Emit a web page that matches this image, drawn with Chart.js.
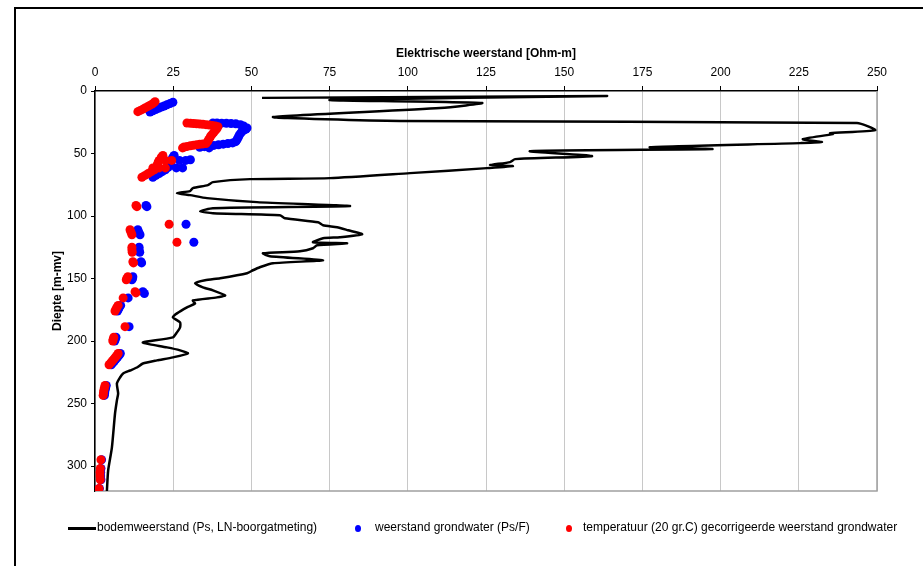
<!DOCTYPE html>
<html>
<head>
<meta charset="utf-8">
<script src="https://cdn.jsdelivr.net/npm/chart.js@4.4.1/dist/chart.umd.min.js"></script>
<style>
  body { margin: 0; background: #fff; font-family: "Liberation Sans", Arial, sans-serif; }
  #wrap { position: relative; width: 923px; height: 566px; }
  #legend { position: absolute; left: 0; top: 520px; width: 923px; height: 16px; font-size: 12px; color: #000; }
  #legend .item { position: absolute; top: 0; white-space: nowrap; line-height: 15px; }
  #legend .line { position: absolute; top: 7px; width: 28px; height: 3px; background: #000; }
  #legend .dot { position: absolute; top: 5px; width: 6px; height: 7px; border-radius: 50%; }
</style>
</head>
<body>
<div id="wrap">
  <canvas id="diepteChart" width="923" height="566"></canvas>
  <div id="legend"></div>
</div>
<script>
// Axis ranges
const xMax = 250;
const yMax = 320;

// Legend labels
const seriesLabels = [
    'bodemweerstand (Ps, LN-boorgatmeting)',
    'weerstand grondwater (Ps/F)',
    'temperatuur (20 gr.C) gecorrigeerde weerstand grondwater'
];

// Bodemweerstand (line): value [Ohm-m] and depth [m-mv]
const bodemWaarde = [53.4, 163.7, 75.1, 123.7, 110.3, 56.9, 97.5, 243.6, 249.4, 235.0,
    235.9, 226.3, 232.4, 225.4, 177.4, 197.3, 139.1, 158.9, 134.3, 132.7,
    126.3, 133.6, 125.3, 100.7, 75.1, 49.6, 37.7, 36.1, 31.3, 30.4,
    26.2, 30.4, 35.8, 51.8, 81.5, 37.7, 33.6, 37.7, 59.1, 60.7,
    71.3, 72.9, 77.4, 80.9, 85.4, 78.3, 72.9, 69.7, 80.6, 71.0,
    69.7, 65.5, 53.7, 55.9, 72.9, 56.9, 52.7, 50.5, 48.6, 40.0,
    35.2, 32.0, 34.5, 37.7, 41.6, 39.0, 31.3, 32.0, 29.4, 26.2,
    24.9, 27.2, 27.2, 26.2, 24.9, 15.3, 17.6, 23.0, 27.2, 29.7,
    24.9, 19.8, 15.3, 13.4, 11.2, 9.0, 8.0, 7.0, 7.4, 7.0,
    6.4, 5.4, 4.2, 3.8];
const bodemDiepte = [5.5, 4.0, 7.2, 9.6, 13.6, 20.8, 24.0, 25.6, 31.3, 33.7,
    34.5, 38.5, 40.9, 41.7, 44.9, 46.5, 48.1, 52.1, 54.5, 56.9,
    59.3, 60.1, 61.7, 65.7, 69.7, 70.5, 72.9, 75.3, 77.7, 80.1,
    81.7, 83.3, 85.7, 88.9, 92.1, 93.8, 96.2, 97.8, 99.4, 101.8,
    105.0, 107.4, 109.0, 111.4, 114.6, 117.0, 117.8, 121.0, 121.8, 123.4,
    125.8, 128.2, 129.8, 132.2, 135.4, 137.8, 141.0, 143.4, 145.8, 149.8,
    151.4, 153.8, 157.1, 159.5, 163.5, 165.1, 167.5, 169.9, 173.1, 177.9,
    181.1, 185.1, 189.1, 193.1, 197.1, 201.1, 202.7, 205.1, 207.5, 209.9,
    213.1, 215.5, 218.0, 221.2, 223.6, 226.0, 229.2, 234.0, 242.0, 247.6,
    258.0, 285.3, 303.7, 320];

// Weerstand grondwater (blue points)
const blauwWaarde = [17.6, 18.5, 19.4, 20.3, 21.2, 22.1, 23, 24, 24.9,
    37.7, 39, 40.5, 42, 43.5, 45, 46.5, 47.5, 48.6, 48.3, 47.5, 46.8, 46.3, 46, 45.7, 45.4, 45,
    44, 42.5, 41, 39.5, 38, 36.5, 35, 33.5, 36.5,
    25.3, 24.9, 24.6, 27, 29, 30.5, 24.3, 24, 23.7, 23.4, 26, 28, 22.5, 21.5, 20.5, 19.5, 18.5,
    16.3, 16.6, 29.1, 13.7, 14, 14.4, 31.6, 14.1, 14.1, 14.3, 14.7, 14.9, 12.1, 12, 11.8,
    15.3, 15.8, 10.6, 8.2, 7.8, 7.5, 7.2, 10.9, 6.7, 6.5, 6.3,
    8.1, 7.7, 7.2, 6.7, 6.2, 5.7, 5.2, 3.6, 3.4, 3.2, 3.1, 3,
    2.1, 1.9, 1.8, 1.8, 1.9, 1.4];
const blauwDiepte = [16.8, 15.8, 14.8, 13.8, 12.8, 12, 11, 10, 9,
    25.6, 25.6, 25.7, 25.8, 26, 26.2, 27, 28, 29.5, 30.5, 31.5, 33, 34.5, 36, 37.5, 39, 40.5,
    41.5, 42, 42.5, 43, 43.5, 44, 44.5, 45, 45.5,
    51.5, 53, 54.5, 55.5, 55.5, 55, 56.5, 58, 59.5, 61, 61.5, 61.5, 63, 64.5, 66, 67.5, 69,
    91.5, 92.5, 106.6, 111, 113, 115, 121, 125, 127, 129, 136.5, 137.5, 148.5, 150, 151,
    160.5, 162, 165.5, 171.5, 173, 174.5, 176, 188.5, 197, 198.5, 200,
    210, 211.5, 213, 214.5, 216, 217.5, 219, 235.5, 237.5, 239.5, 241.5, 243.5,
    295, 302, 305, 308, 311, 318];

// Temperatuur gecorrigeerde weerstand (red points)
const roodWaarde = [13.7, 14.5, 15.3, 16.0, 16.8, 17.5, 18.2, 18.8, 19.2,
    29.4, 30.5, 31.5, 32.5, 33.5, 34.5, 35.5, 36.5, 37.5, 38.5, 39.3,
    39, 38.5, 38, 37.5, 37, 36.7, 36.3, 36,
    35.5, 34.5, 33.5, 32.5, 31.5, 30.5, 29.5, 28.5, 28,
    21.7, 21.2, 21, 20.5, 22.5, 24.5, 20.2, 20, 19.8, 18.5, 20.5, 22.5, 19, 18, 17, 16, 15,
    13.1, 13.4, 23.7, 11.2, 11.5, 11.8, 26.2, 11.8, 11.8, 11.9, 12.1, 12.3, 10.5, 10.2, 10,
    12.8, 13.1, 9.0, 7.4, 7, 6.7, 6.4, 9.6, 6, 5.8, 5.7,
    7.4, 7, 6.5, 6, 5.5, 5, 4.5, 3.2, 3, 2.8, 2.7, 2.6,
    1.9, 1.7, 1.6, 1.6, 1.7, 1.3];
const roodDiepte = [16.5, 15.5, 14.5, 13.5, 12.5, 11.5, 10.5, 9.5, 8.5,
    25.6, 25.8, 26, 26.2, 26.4, 26.6, 26.9, 27.2, 27.5, 28, 28.5,
    30, 31.5, 33, 34.5, 36, 37.5, 39, 40.5,
    42, 42.3, 42.6, 43, 43.4, 43.8, 44.3, 44.8, 45.5,
    51.5, 53, 54.5, 55.5, 55.5, 55.5, 57, 58.5, 60, 61.5, 61.5, 61.5, 63, 64.5, 66, 67.5, 69,
    91.5, 92.5, 106.6, 111, 113, 115, 121, 125, 127, 129, 136.5, 137.5, 148.5, 150, 151,
    160.5, 161.5, 165.5, 171.5, 173, 174.5, 176, 188.5, 197, 198.5, 200,
    210, 211.5, 213, 214.5, 216, 217.5, 219, 235.5, 237.5, 239.5, 241.5, 243.5,
    295, 302, 305, 308, 311, 318];

function toPoints(waarde, diepte) {
    return waarde.map((v, i) => ({ x: v, y: diepte[i] }));
}

const fontFamily = '"Liberation Sans", Arial, sans-serif';
Chart.defaults.font.family = fontFamily;
Chart.defaults.font.size = 12;
Chart.defaults.color = '#000';

// Frame around the whole figure and the grey right/bottom edge of the plot
const framePlugin = {
    id: 'frame',
    beforeDraw(chart) {
        const c = chart.ctx;
        c.save();
        c.fillStyle = '#fff';
        c.fillRect(0, 0, chart.width, chart.height);
        c.strokeStyle = '#000';
        c.lineWidth = 2;
        c.beginPath();
        c.moveTo(15, chart.height);
        c.lineTo(15, 8);
        c.lineTo(chart.width, 8);
        c.stroke();
        c.restore();
    },
    beforeDatasetsDraw(chart) {
        const a = chart.chartArea;
        const c = chart.ctx;
        c.save();
        c.strokeStyle = '#a0a0a0';
        c.lineWidth = 1.5;
        c.beginPath();
        c.moveTo(a.left, a.bottom);
        c.lineTo(a.right, a.bottom);
        c.lineTo(a.right, a.top);
        c.stroke();
        c.restore();
    }
};

const ctx = document.getElementById('diepteChart').getContext('2d');
const diepteChart = new Chart(ctx, {
    type: 'scatter',
    data: {
        datasets: [{
            label: seriesLabels[0],
            data: toPoints(bodemWaarde, bodemDiepte),
            showLine: true,
            borderColor: '#000',
            borderWidth: 2.5,
            tension: 0.2,
            pointRadius: 0,
            order: 0
        }, {
            label: seriesLabels[1],
            data: toPoints(blauwWaarde, blauwDiepte),
            backgroundColor: '#0000ff',
            borderWidth: 0,
            pointRadius: 4.5,
            order: 2
        }, {
            label: seriesLabels[2],
            data: toPoints(roodWaarde, roodDiepte),
            backgroundColor: '#ff0000',
            borderWidth: 0,
            pointRadius: 4.5,
            order: 1
        }]
    },
    options: {
        responsive: false,
        animation: false,
        devicePixelRatio: 1,
        layout: {
            padding: { top: 40, left: 40, right: 46, bottom: 75 }
        },
        plugins: {
            legend: { display: false },
            tooltip: { enabled: false }
        },
        scales: {
            x: {
                type: 'linear',
                position: 'top',
                min: 0,
                max: xMax,
                afterFit(scale) { scale.height = 51; },
                ticks: { stepSize: 25, padding: 6, color: '#000' },
                grid: { color: '#c8c8c8', lineWidth: 1, tickColor: '#000', tickLength: 5 },
                border: { color: '#000', width: 1.5 },
                title: {
                    display: true,
                    text: 'Elektrische weerstand [Ohm-m]',
                    font: { weight: 'bold', size: 12 },
                    padding: { top: 6, bottom: 0 }
                }
            },
            y: {
                type: 'linear',
                reverse: true,
                min: 0,
                max: yMax,
                afterFit(scale) { scale.width = 55; },
                ticks: { stepSize: 50, includeBounds: false, padding: 4, color: '#000' },
                grid: { drawOnChartArea: false, tickColor: '#000', tickLength: 4 },
                border: { color: '#000', width: 1.5 },
                title: {
                    display: true,
                    text: 'Diepte [m-mv]',
                    font: { weight: 'bold', size: 12 },
                    padding: { top: 10, bottom: 0 }
                }
            }
        }
    },
    plugins: [framePlugin]
});

// Legend as plain text below the chart
const legendEl = document.getElementById('legend');
const legendItems = [
    { mark: 'line', color: '#000', markX: 68, textX: 97 },
    { mark: 'dot', color: '#0000ff', markX: 355, textX: 375 },
    { mark: 'dot', color: '#ff0000', markX: 566, textX: 583 }
];
legendItems.forEach((item, i) => {
    const m = document.createElement('div');
    m.className = item.mark;
    m.style.left = item.markX + 'px';
    m.style.background = item.color;
    legendEl.appendChild(m);
    const t = document.createElement('div');
    t.className = 'item';
    t.style.left = item.textX + 'px';
    t.textContent = seriesLabels[i];
    legendEl.appendChild(t);
});
</script>
</body>
</html>
